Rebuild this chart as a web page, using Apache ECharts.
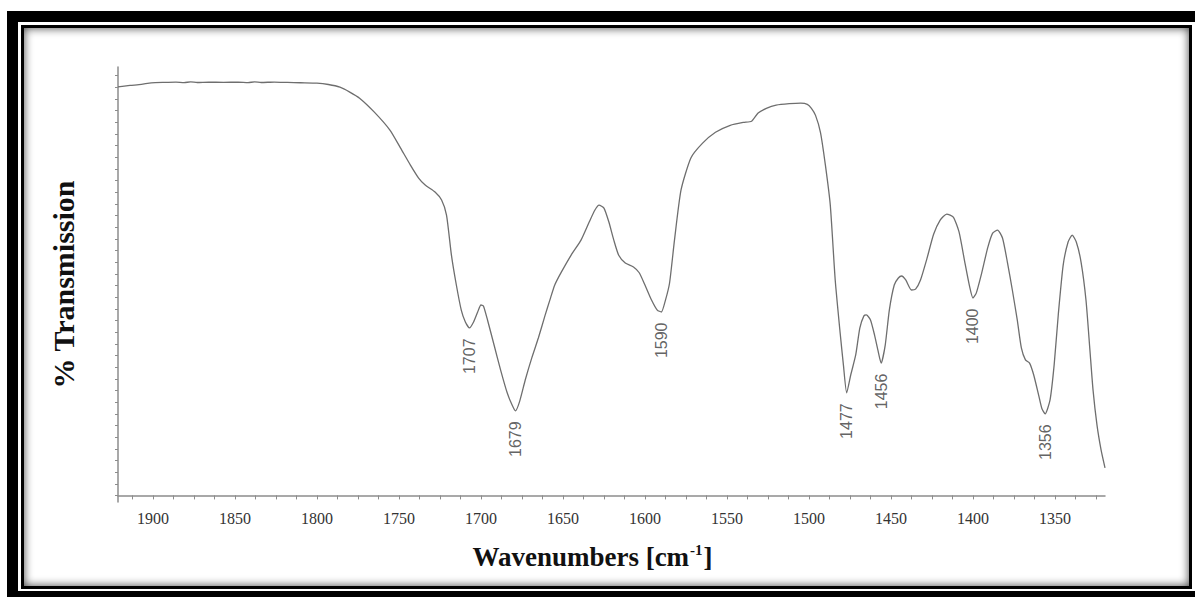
<!DOCTYPE html>
<html>
<head>
<meta charset="utf-8">
<title>IR spectrum</title>
<script src="https://cdn.jsdelivr.net/npm/echarts@6/dist/echarts.min.js"></script>
<style>
  html, body { margin: 0; padding: 0; background: #fff; }
  body { width: 1195px; height: 597px; overflow: hidden; position: relative; }
  #outer { position: absolute; left: 7px; top: 11px; width: 1199px; height: 591px;
           box-sizing: border-box; border: 11px solid #000; }
  #inner { position: absolute; left: 21px; top: 25px; width: 1171px; height: 564px;
           box-sizing: border-box; border: 3px solid #000;
           box-shadow: inset 0 0 10px rgba(0,0,0,0.75); }
  #chart { position: absolute; left: 0; top: 0; width: 1195px; height: 597px; }
</style>
</head>
<body>
<div id="outer"></div>
<div id="inner"></div>
<div id="chart"></div>
<script>
// Wavenumber (cm-1) of each sampled point, high to low
const waveNumbers = [
  1921.3, 1914, 1907, 1901, 1893, 1886, 1881, 1877, 1873, 1866, 1857, 1848, 1842, 1838, 1834,
  1826, 1818, 1810, 1800, 1793, 1786, 1780, 1774, 1765, 1755.5, 1749, 1743, 1738, 1734, 1728,
  1724, 1721, 1718, 1715, 1712, 1709.5, 1707, 1704.5, 1702, 1700, 1698.5, 1696, 1692, 1688, 1684,
  1681, 1679, 1676.5, 1673, 1669, 1665, 1661, 1658, 1655, 1651, 1645, 1639, 1634, 1630.5, 1628,
  1625, 1622, 1619, 1616, 1612, 1607, 1603.5, 1600, 1596, 1592.5, 1590, 1587.5, 1585, 1582, 1578,
  1572, 1565, 1557, 1548, 1540, 1535, 1531, 1526, 1520, 1512, 1505, 1501, 1498.5, 1496, 1493,
  1490, 1487, 1484, 1481, 1479, 1477, 1474.5, 1471.5, 1469, 1466.5, 1465, 1462.5, 1460, 1458, 1456,
  1453.5, 1451, 1448, 1445.5, 1443.5, 1441, 1437.5, 1435, 1432, 1428, 1424, 1420, 1416, 1412, 1408.5,
  1405, 1402, 1400, 1398, 1395, 1391, 1388, 1385, 1382, 1379, 1376, 1373, 1370.5, 1368, 1365.5,
  1363, 1360, 1358, 1356, 1353, 1350.5, 1348, 1345, 1342, 1339.5, 1337, 1334.1, 1331.1, 1328.7, 1326.8,
  1324.4, 1321.9, 1319.5
];

// % Transmission at each wavenumber above
const transmission = [
  70.09, 70.33, 70.52, 70.78, 70.86, 70.90, 70.82, 70.95, 70.84, 70.90, 70.86, 70.90, 70.82, 70.95, 70.84,
  70.92, 70.86, 70.80, 70.73, 70.50, 70.04, 69.20, 68.15, 65.75, 62.67, 59.58, 56.67, 54.44, 53.24, 52.04,
  50.67, 48.10, 41.24, 36.10, 31.80, 29.76, 28.73, 29.76, 31.47, 32.67, 32.50, 30.10, 25.80, 21.50, 17.60,
  15.50, 14.50, 16.05, 19.80, 23.60, 27.00, 30.80, 33.50, 36.10, 38.30, 41.24, 43.80, 46.90, 48.96, 49.80,
  49.30, 46.90, 43.80, 41.20, 39.87, 39.20, 38.20, 36.10, 33.53, 31.80, 31.47, 33.50, 36.44, 43.80, 52.40,
  57.90, 60.40, 62.30, 63.50, 64.00, 64.20, 65.60, 66.40, 66.95, 67.20, 67.30, 67.10, 66.40, 65.20, 62.30,
  56.70, 49.80, 36.96, 27.90, 22.40, 17.60, 20.70, 24.10, 28.70, 30.80, 30.96, 30.10, 27.50, 24.96, 22.70,
  25.80, 31.80, 36.10, 37.30, 37.64, 36.96, 35.24, 35.40, 36.96, 40.70, 44.80, 47.24, 48.27, 47.76, 45.20,
  40.04, 35.76, 33.87, 34.70, 37.80, 42.50, 45.00, 45.53, 44.16, 40.00, 35.24, 30.10, 25.30, 23.25, 22.70,
  20.70, 17.25, 14.90, 13.99, 16.40, 22.40, 30.96, 39.50, 43.47, 44.67, 43.47, 40.04, 33.53, 24.96, 18.10,
  12.10, 7.82, 4.74
];

// Labelled absorption bands (cm-1)
const peaks = [1707, 1679, 1590, 1477, 1456, 1400, 1356];

// Axis ticks and labels
const xLabelValues = [1900, 1850, 1800, 1750, 1700, 1650, 1600, 1550, 1500, 1450, 1400, 1350];
const xTickValues = [];
for (let v = 1325; v <= 1912.5; v += 12.5) xTickValues.push(v);
const yTickValues = [];
for (let v = 0; v <= 72; v += 2) yTickValues.push(v);

const spectrum = waveNumbers.map((w, i) => [w, transmission[i]]);
const peakPoints = peaks.map(w => [w, transmission[waveNumbers.indexOf(w)]]);

const axisGray = '#8c8c8c';
const serif = '"Liberation Serif", "Times New Roman", serif';

const chart = echarts.init(document.getElementById('chart'), null, { renderer: 'svg' });
chart.setOption({
  animation: false,
  backgroundColor: 'transparent',
  grid: { left: 118, top: 67, right: 90, bottom: 95 },
  xAxis: {
    type: 'value',
    inverse: true,
    min: 1319.5,
    max: 1921.3,
    name: '{b|Wavenumbers [cm}{s|-1}{b|]}',
    nameLocation: 'middle',
    nameGap: 40,
    nameTextStyle: {
      padding: [0, 38, 0, 0],
      rich: {
        b: { fontFamily: serif, fontWeight: 'bold', fontSize: 27, color: '#111', lineHeight: 30 },
        s: { fontFamily: serif, fontWeight: 'bold', fontSize: 15, color: '#111', verticalAlign: 'top', lineHeight: 30, padding: [0, 1, 10, 1] }
      }
    },
    axisLine: { show: true, lineStyle: { color: axisGray, width: 1.5 } },
    axisTick: { show: true, inside: false, length: 4, customValues: xTickValues, lineStyle: { color: axisGray, width: 1 } },
    axisLabel: {
      customValues: xLabelValues,
      formatter: v => String(v),
      fontFamily: serif, fontSize: 16, color: '#333', margin: 8
    },
    splitLine: { show: false }
  },
  yAxis: {
    type: 'value',
    min: -1.13,
    max: 73.5,
    name: '% Transmission',
    nameLocation: 'middle',
    nameRotate: 90,
    nameGap: 40,
    nameTextStyle: { fontFamily: serif, fontWeight: 'bold', fontSize: 30, color: '#111' },
    axisLine: { show: true, lineStyle: { color: axisGray, width: 1.5 } },
    axisTick: { show: true, inside: false, length: 3, customValues: yTickValues, lineStyle: { color: axisGray, width: 1 } },
    axisLabel: { show: false },
    splitLine: { show: false }
  },
  series: [
    {
      type: 'line',
      data: spectrum,
      showSymbol: false,
      smooth: 0.2,
      silent: true,
      lineStyle: { color: '#6e6e6e', width: 1.3 }
    },
    {
      type: 'scatter',
      data: peakPoints,
      symbolSize: 1,
      silent: true,
      itemStyle: { color: 'rgba(0,0,0,0)' },
      label: {
        show: true,
        formatter: p => String(p.value[0]),
        position: 'bottom',
        distance: 10,
        rotate: 90,
        align: 'right',
        verticalAlign: 'middle',
        fontFamily: '"Liberation Sans", Arial, sans-serif',
        fontSize: 16,
        color: '#3a3a3a'
      }
    }
  ]
});
</script>
</body>
</html>
